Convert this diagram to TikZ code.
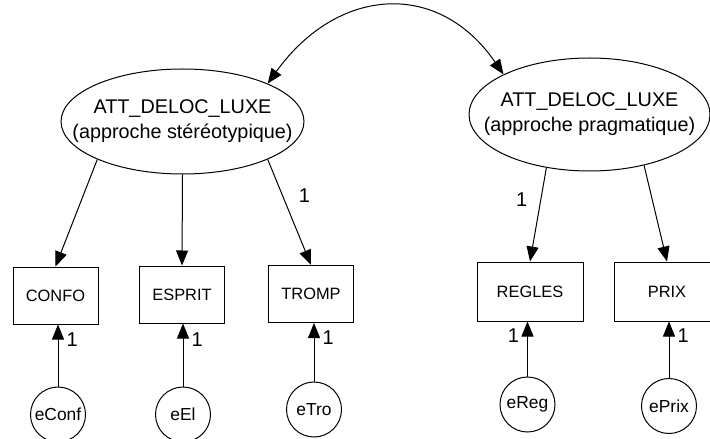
\documentclass[tikz,border=0pt]{standalone}
\usepackage{fontspec}
\setmainfont{Liberation Sans}
\usetikzlibrary{shapes.geometric,arrows.meta}
\begin{document}
\begin{tikzpicture}[x=0.5pt, y=-0.5pt, line width=0.5pt, >={Triangle[length=7.5pt,width=6pt]},
  latent/.style={draw, ellipse, inner sep=0pt},
  lbl/.style={align=center, font=\fontsize{9.9}{12.5}\selectfont},
  obs/.style={draw, rectangle, minimum width=42.5pt, minimum height=28.5pt, font=\fontsize{8.2}{9.8}\selectfont},
  err/.style={draw, circle, minimum size=27.5pt, inner sep=0pt, font=\fontsize{8.7}{10}\selectfont},
  one/.style={font=\fontsize{10}{12}\selectfont, inner sep=1pt}]
\useasboundingbox (0,0) rectangle (710,438);
\node[latent, minimum width=121.5pt, minimum height=52.5pt, label={[lbl]center:ATT\_DELOC\_LUXE\\(approche stéréotypique)}] (F_0) at (182.5,121.5) {};
\node[latent, minimum width=120.5pt, minimum height=56.5pt, label={[lbl]center:ATT\_DELOC\_LUXE\\(approche pragmatique)}] (F_1) at (589.5,114.5) {};
\draw[<->] (F_0.24) .. controls (337,-13) and (438,-21) .. (F_1.155);
\node[obs] (I_0) at (55.5,295.5) {CONFO};
\draw[->] (F_0.204) -- (I_0.north);
\node[obs] (I_1) at (182,294.5) {ESPRIT};
\draw[->] (F_0.south) -- (I_1.north);
\node[obs] (I_2) at (311,294) {TROMP};
\draw[->] (F_0.-24) -- (I_2.north) node[pos=0.34, one, right=7pt] {1};
\node[obs, minimum width=53pt, minimum height=29.5pt] (I_3) at (530,291.5) {REGLES};
\draw[->] (F_1.231) -- (I_3.north) node[pos=0.34, one, left=5.5pt] {1};
\node[obs, minimum width=53pt, minimum height=29.5pt] (I_4) at (667,291.5) {PRIX};
\draw[->] (F_1.-43) -- (I_4.north);
\node[err] (E_0) at (58,414.5) {eConf};
\draw[->] (E_0) -- (E_0 |- I_0.south) node[pos=0.75, one, right=3pt] {1};
\node[err] (E_1) at (183,414.5) {eEl};
\draw[->] (E_1) -- (E_1 |- I_1.south) node[pos=0.75, one, right=3pt] {1};
\node[err] (E_2) at (314,409.5) {eTro};
\draw[->] (E_2) -- (E_2 |- I_2.south) node[pos=0.75, one, right=3pt] {1};
\node[err] (E_3) at (527.5,404.5) {eReg};
\draw[->] (E_3) -- (E_3 |- I_3.south) node[pos=0.75, one, left=3pt] {1};
\node[err] (E_4) at (669,406) {ePrix};
\draw[->] (E_4) -- (E_4 |- I_4.south) node[pos=0.75, one, right=3pt] {1};
\end{tikzpicture}
\end{document}
